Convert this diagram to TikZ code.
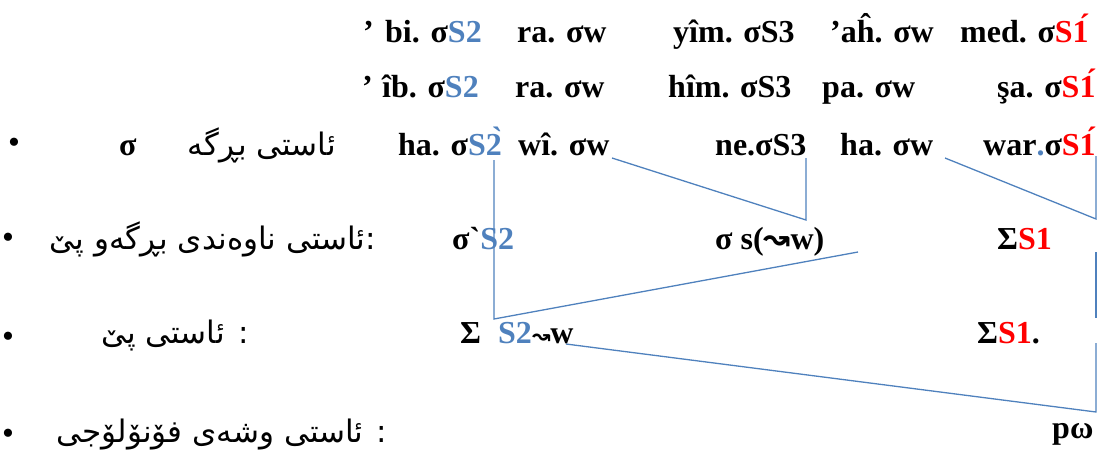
\documentclass[tikz,border=0pt]{standalone}
\usepackage{fontspec}
\TeXXeTstate=1
\newfontfamily\tnr{Liberation Serif}
\newfontfamily\kfont[Script=Arabic]{DejaVu Sans}
\newfontfamily\djv{DejaVu Sans}
\definecolor{sblue}{HTML}{4F81BD}
\definecolor{sred}{HTML}{FF0000}
\newcommand{\bS}[1]{\textcolor{sblue}{#1}}
\newcommand{\rS}[1]{\textcolor{sred}{#1}}
\begin{document}
\begin{tikzpicture}[x=1pt,y=-1pt,
  lat/.style={anchor=base west, inner sep=0pt, font=\tnr\bfseries\fontsize{32}{32}\selectfont},
  kur/.style={anchor=base, inner sep=0pt, font=\kfont\fontsize{31}{31}\selectfont},
  bul/.style={inner sep=0pt, font=\tnr\fontsize{34}{34}\selectfont},
  link/.style={draw=sblue, line width=1.3pt}]
\useasboundingbox (0,0) rectangle (1102,455);

% connector vertices
\coordinate (a1) at (494,160);
\coordinate (a2) at (494,319);
\coordinate (a3) at (858,252);
\coordinate (b1) at (612,158);
\coordinate (b2) at (806,220);
\coordinate (b3) at (806,158);
\coordinate (c1) at (945,158);
\coordinate (c2) at (1096,219);
\coordinate (c3) at (1096,156);
\coordinate (d1) at (1096,252);
\coordinate (d2) at (1096,318);
\coordinate (e1) at (566,344);
\coordinate (e2) at (1096,412);
\coordinate (e3) at (1096,343);

\draw[link] (a1) -- (a2) -- (a3);
\draw[link] (b1) -- (b2) -- (b3);
\draw[link] (c1) -- (c2) -- (c3);
\draw[link] (d1) -- (d2);
\draw[link] (e1) -- (e2) -- (e3);

% row 1
\node[lat] (r1q) at (363,42) {’};
\node[lat] (r1a) at (385,42) {bi. σ\bS{S2}};
\node[lat] (r1b) at (517,42) {ra. σw};
\node[lat] (r1c) at (673,42) {yîm. σS3};
\node[lat] (r1d) at (830,42) {’aĥ. σw};
\node[lat] (r1e) at (960,42) {med. σ\rS{S1́}};
% row 2
\node[lat] (r2q) at (362,97) {’};
\node[lat] (r2a) at (382,97) {îb. σ\bS{S2}};
\node[lat] (r2b) at (515,97) {ra. σw};
\node[lat] (r2c) at (668,97) {hîm. σS3};
\node[lat] (r2d) at (822,97) {pa. σw};
\node[lat] (r2e) at (997,97) {şa. σ\rS{S1́}};
% row 3
\node[bul] (u3) at (14,146) {•};
\node[lat] (r3s) at (119,155) {σ};
\node[kur] (k3) at (262,155) {\beginR ئاستی بڕگە\endR};
\node[lat] (r3a) at (398,155) {ha. σ\bS{S2̀}};
\node[lat] (r3b) at (518,155) {wî. σw};
\node[lat] (r3c) at (715,155) {ne.σS3};
\node[lat] (r3d) at (840,155) {ha. σw};
\node[lat] (r3e) at (983,155) {war\bS{.}σ\rS{S1́}};
% row 4
\node[bul] (u4) at (8,241) {•};
\node[kur] (k4) at (213,249) {\beginR :ئاستی ناوەندی بڕگەو پێ\endR};
\node[lat] (r4a) at (452,249) {σ`\bS{S2}};
\node[lat] (r4b) at (715,249) {σ s({\djv\bfseries ↝}w)};
\node[lat] (r4c) at (997,249) {Σ\rS{S1}};
% row 5
\node[bul] (u5) at (8,340) {•};
\node[kur] (k5) at (175,343) {\beginR : ئاستی پێ\endR};
\node[lat] (r5a) at (460,343) {Σ};
\node[lat] (r5b) at (498,343) {\bS{S2}{\djv\bfseries\fontsize{22}{22}\selectfont ↝}w};
\node[lat] (r5c) at (977,343) {Σ\rS{S1}.};
% row 6
\node[bul] (u6) at (8,437) {•};
\node[kur] (k6) at (222,442) {\beginR : ئاستی وشەی فۆنۆلۆجی\endR};
\node[lat] (r6a) at (1052,438) {pω};
\end{tikzpicture}
\end{document}
